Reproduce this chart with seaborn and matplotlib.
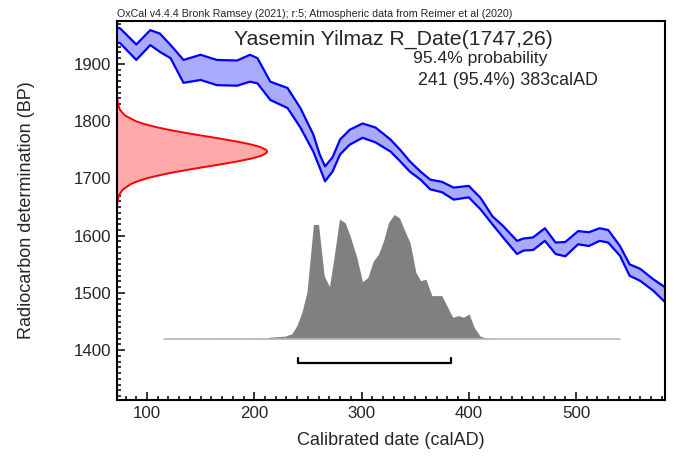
import matplotlib
matplotlib.use("Agg")
import matplotlib.pyplot as plt
import seaborn as sns
from matplotlib.ticker import MultipleLocator

# IntCal20 band (calAD, BP)
cal_ad = [72, 75, 90, 103, 112, 122, 134, 150, 165, 184, 196, 203, 215, 231, 243,
          255, 261, 266, 273, 280, 289, 301, 313, 327, 336, 345, 355, 364, 375, 386,
          400, 411, 422, 432, 445, 451, 460, 471, 481, 490, 502, 512, 522, 530, 541,
          550, 560, 572, 583]
curve_upper = [1964, 1962, 1934, 1959, 1953, 1933, 1907, 1916, 1907, 1906, 1916, 1910, 1869, 1858, 1823,
               1777, 1742, 1721, 1737, 1768, 1785, 1796, 1789, 1768, 1750, 1730, 1712, 1698, 1694, 1684,
               1687, 1666, 1634, 1617, 1591, 1595, 1597, 1613, 1588, 1589, 1608, 1606, 1613, 1610, 1582,
               1550, 1542, 1524, 1510]
curve_lower = [1938, 1936, 1907, 1933, 1921, 1910, 1867, 1872, 1863, 1862, 1869, 1866, 1837, 1823, 1789,
               1747, 1719, 1695, 1712, 1742, 1759, 1771, 1763, 1747, 1730, 1712, 1698, 1681, 1676, 1663,
               1667, 1646, 1620, 1597, 1568, 1574, 1575, 1591, 1568, 1564, 1585, 1582, 1591, 1588, 1565,
               1530, 1521, 1504, 1484]

# radiocarbon date R_Date(1747,26): BP and width of the red curve (in years on x)
r_bp = [1840, 1830, 1820, 1810, 1800, 1795, 1790, 1785, 1780, 1775, 1770, 1765, 1760, 1755, 1750,
        1747, 1745, 1740, 1735, 1730, 1725, 1720, 1715, 1710, 1705, 1700, 1695, 1690, 1680, 1670,
        1660, 1655]
r_width = [0.2, 0.9, 2.7, 7.4, 17.5, 25.5, 35.7, 48.1, 62.6, 78.4, 94.7, 110.2, 123.5, 133.5, 139.0,
           140.0, 139.6, 135.0, 125.9, 113.0, 97.9, 81.6, 65.6, 50.8, 38.0, 27.3, 19.0, 12.7, 5.1, 1.7,
           0.5, 0.3]

# calibrated distribution (relative probability)
post_ad = [115.4, 211.8, 214.9, 228.9, 235.1, 239.8, 244.4, 249.1, 255.2, 259.9, 265.2, 270.1, 273.9,
           279.5, 284.8, 289.4, 295.7, 300.9, 305.9, 311.1, 315.8, 320.5, 325.1, 330.4, 335.4, 339.8,
           345.3, 350.7, 355.3, 360.0, 365.6, 374.9, 379.5, 385.1, 390.4, 395.0, 400.3, 405.0, 410.6,
           418.3, 541.0]
post_prob = [0.0, 0.005, 0.013, 0.021, 0.04, 0.107, 0.213, 0.373, 0.92, 0.92, 0.507, 0.421, 0.627,
             0.965, 0.933, 0.827, 0.653, 0.459, 0.493, 0.627, 0.68, 0.787, 0.933, 1.0, 0.973, 0.88,
             0.773, 0.533, 0.467, 0.48, 0.347, 0.347, 0.267, 0.173, 0.187, 0.173, 0.2, 0.093, 0.021,
             0.0, 0.0]

range_from, range_to = 241, 383
title = "Yasemin Yilmaz R_Date(1747,26)"
header = "OxCal v4.4.4 Bronk Ramsey (2021); r:5; Atmospheric data from Reimer et al (2020)"

sns.set_style("ticks")
plt.rcParams["font.family"] = ["Liberation Sans", "DejaVu Sans"]

fig = plt.figure(figsize=(6.75, 4.62), dpi=100)
ax = fig.add_axes([117 / 675, 1 - 400 / 462, 548 / 675, 379 / 462])

x_min, x_max = 72, 583
base_bp, prob_scale = 1420, 217

# calibration curve
ax.fill_between(cal_ad, curve_lower, curve_upper, color="#aaaaff", lw=0)
for edge in (curve_upper, curve_lower):
    sns.lineplot(x=cal_ad, y=edge, color="#0000ff", lw=1.6, ax=ax,
                 solid_joinstyle="round", solid_capstyle="round")

# radiocarbon date
r_x = [x_min + w for w in r_width]
ax.fill_betweenx(r_bp, x_min, r_x, color="#ffaaaa", lw=0)
sns.lineplot(x=r_x, y=r_bp, sort=False, estimator=None, color="#ff0000", lw=1.4, ax=ax,
             solid_joinstyle="round")

# calibrated date
post_y = [base_bp + p * prob_scale for p in post_prob]
ax.fill_between(post_ad, base_bp, post_y, color="#808080", lw=0)
ax.plot([post_ad[0], post_ad[-1]], [base_bp, base_bp], color="#b8b8b8", lw=1.2)

# 95.4% range bracket
ax.plot([range_from, range_from, range_to, range_to], [1387, 1378, 1378, 1387],
        color="black", lw=1.6)

ax.set_xlim(x_min, x_max)
ax.set_ylim(1313, 1975)
ax.xaxis.set_major_locator(MultipleLocator(100))
ax.xaxis.set_minor_locator(MultipleLocator(10))
ax.yaxis.set_major_locator(MultipleLocator(100))
ax.yaxis.set_minor_locator(MultipleLocator(10))
ax.tick_params(which="both", direction="in", width=1.3, labelsize=12.2, top=False, right=False)
ax.tick_params(which="major", length=6, pad=4)
ax.tick_params(which="minor", length=3)
for s in ax.spines.values():
    s.set_linewidth(1.5)
    s.set_color("black")

ax.set_xlabel("Calibrated date (calAD)", fontsize=13)
ax.set_ylabel("Radiocarbon determination (BP)", fontsize=13)
ax.xaxis.set_label_coords(0.5, -0.085)
ax.yaxis.set_label_coords(-0.150, 0.5)

fig.text(117 / 675, 1 - 17 / 462, header, fontsize=7.7, va="baseline")
fig.text(393 / 675, 1 - 45 / 462, title, fontsize=15.3, ha="center", va="baseline")
fig.text(413 / 675, 1 - 63 / 462, "95.4% probability", fontsize=12.6, va="baseline")
fig.text(418 / 675, 1 - 85 / 462, "241 (95.4%) 383calAD", fontsize=12.9, va="baseline")

fig.savefig("out.png", dpi=100)
